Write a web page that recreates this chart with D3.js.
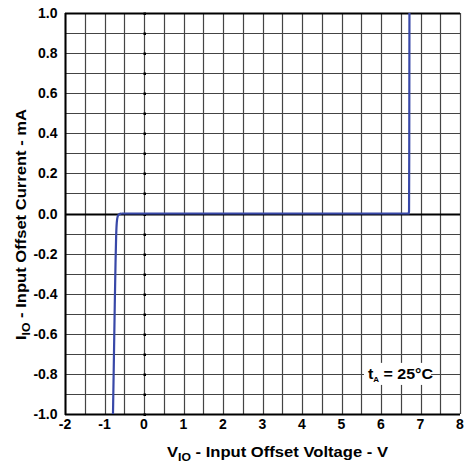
<!DOCTYPE html>
<html>
<head>
<meta charset="utf-8">
<script src="https://cdn.jsdelivr.net/npm/d3@7"></script>
<style>
html,body{margin:0;padding:0;background:#fff;}
svg{display:block;}
text{font-family:"Liberation Sans",Arial,sans-serif;font-weight:bold;fill:#000;}
</style>
</head>
<body>
<svg id="chart" width="467" height="464"></svg>
<script>
// Data
const xTicks = [-2,-1,0,1,2,3,4,5,6,7,8];
const yTicks = [-1.0,-0.8,-0.6,-0.4,-0.2,0.0,0.2,0.4,0.6,0.8,1.0];
const curveV = [-0.785,-0.76,-0.74,-0.72,-0.705,-0.69,-0.67,-0.63,-0.57,0,3,6.70,6.71,6.715,6.72];
const curveI = [-1.0,-0.7,-0.45,-0.23,-0.10,-0.04,-0.012,-0.002,0.0,0.0,0.0,0.0,0.01,0.3,1.0];
const xTitle = "V";
const xTitleSub = "IO";
const xTitleRest = " - Input Offset Voltage - V";
const yTitle = "I";
const yTitleSub = "IO";
const yTitleRest = " - Input Offset Current - mA";

const svg = d3.select("#chart");
const L = 65, R = 460, T = 13, B = 414;
const x = d3.scaleLinear().domain([-2,8]).range([L,R]);
const y = d3.scaleLinear().domain([-1,1]).range([B,T]);

const g = svg.append("g");
// vertical grid every 0.5
const vg = d3.range(-2, 8.01, 0.5);
g.selectAll("line.vg").data(vg).enter().append("line")
  .attr("x1", d=>Math.round(x(d))+0.5).attr("x2", d=>Math.round(x(d))+0.5)
  .attr("y1", T).attr("y2", B)
  .attr("stroke", "#444").attr("stroke-width", 1.2);
// horizontal grid every 0.1
const hg = d3.range(-1, 1.001, 0.1);
g.selectAll("line.hg").data(hg).enter().append("line")
  .attr("x1", L).attr("x2", R)
  .attr("y1", d=>Math.round(y(d))+0.5).attr("y2", d=>Math.round(y(d))+0.5)
  .attr("stroke", "#444").attr("stroke-width", 1.2);

// small tick marks on x=0 axis
g.selectAll("rect.tk").data(hg).enter().append("rect")
  .attr("x", Math.round(x(0))-0.5).attr("width", 2.5)
  .attr("y", d=>Math.round(y(d))-0.5).attr("height", 2.5)
  .attr("fill", "#000");

// thick borders
g.append("line").attr("x1",L).attr("x2",R).attr("y1",T+0.5).attr("y2",T+0.5).attr("stroke","#000").attr("stroke-width",2.2);
g.append("line").attr("x1",L).attr("x2",R).attr("y1",B+0.5).attr("y2",B+0.5).attr("stroke","#000").attr("stroke-width",2.2);
g.append("line").attr("x1",L).attr("x2",R).attr("y1",Math.round(y(0))+0.5).attr("y2",Math.round(y(0))+0.5).attr("stroke","#000").attr("stroke-width",2);
g.append("line").attr("x1",L+0.5).attr("x2",L+0.5).attr("y1",T).attr("y2",B+1).attr("stroke","#000").attr("stroke-width",2);

// annotation
const ann = svg.append("g");
ann.append("rect").attr("x", x(5.57)).attr("y", y(-0.745)).attr("width", x(7.27)-x(5.57)).attr("height", y(-0.855)-y(-0.745)).attr("fill","#fff");
const at = ann.append("text").attr("x", 368).attr("y", y(-0.8)+5.5).attr("font-size", 14)
  .attr("textLength", 65).attr("lengthAdjust","spacingAndGlyphs");
at.append("tspan").text("t");
at.append("tspan").attr("font-size", 7).attr("dy", 3).text("A");
at.append("tspan").attr("dy", -3).text(" = 25°C");

// curve
const pts = curveV.map((v,i)=>[v,curveI[i]]);
svg.append("path").datum(pts.slice(0,9)).attr("d", d3.line().x(d=>x(d[0])).y(d=>y(d[1])).curve(d3.curveBasis))
  .attr("fill","none").attr("stroke","#3848a8").attr("stroke-width",2.2);
svg.append("path").datum(pts.slice(8)).attr("d", d3.line().x(d=>x(d[0])).y(d=>y(d[1])))
  .attr("fill","none").attr("stroke","#3848a8").attr("stroke-width",2.2);

// tick labels
svg.selectAll("text.xt").data(xTicks).enter().append("text")
  .attr("x", d=>x(d)).attr("y", 428.5).attr("text-anchor","middle").attr("font-size",14)
  .text(d=>d);
svg.selectAll("text.yt").data(yTicks).enter().append("text")
  .attr("x", 57.5).attr("y", d=>y(d)+5).attr("text-anchor","end").attr("font-size",14)
  .text(d=>d.toFixed(1));

// axis titles
const xt = svg.append("text").attr("x", 167).attr("y", 456.5).attr("font-size",15)
  .attr("textLength", 221).attr("lengthAdjust","spacingAndGlyphs");
xt.append("tspan").text(xTitle);
xt.append("tspan").attr("font-size",11).attr("dy",4).text(xTitleSub);
xt.append("tspan").attr("dy",-4).text(xTitleRest);

const yt = svg.append("text").attr("transform","translate(25.5,340) rotate(-90)").attr("font-size",15)
  .attr("textLength", 231).attr("lengthAdjust","spacingAndGlyphs");
yt.append("tspan").text(yTitle);
yt.append("tspan").attr("font-size",11).attr("dy",4).text(yTitleSub);
yt.append("tspan").attr("dy",-4).text(yTitleRest);
</script>
</body>
</html>
